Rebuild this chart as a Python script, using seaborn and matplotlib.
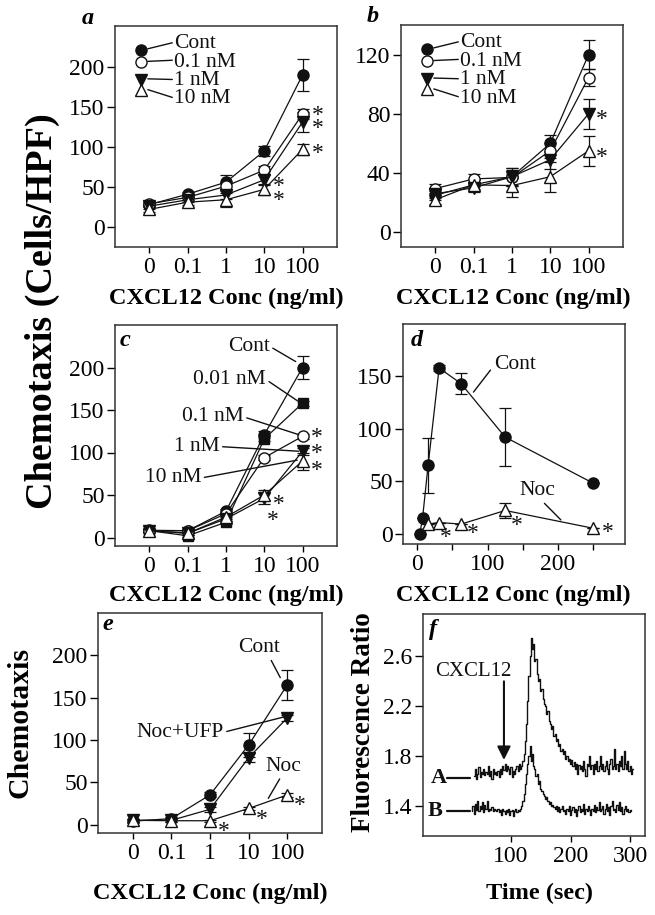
import numpy as np
import pandas as pd
import matplotlib
matplotlib.use('Agg')
import matplotlib.pyplot as plt
from matplotlib.font_manager import FontProperties
import seaborn as sns

sns.set_theme(style='ticks')
plt.rcParams['font.family'] = ['Liberation Serif', 'DejaVu Serif']
plt.rcParams['text.color'] = 'black'

# ---------------- data ----------------
conc_labels = ['0', '0.1', '1', '10', '100']

# panel a
a_cont = [28, 41, 56, 95, 190]
a_cont_err = [3, 3, 9, 6, 20]
a_01 = [29, 37, 51, 71, 141]
a_01_err = [3, 3, 5, 5, 6]
a_1 = [26, 34, 40, 59, 131]
a_1_err = [3, 3, 5, 6, 13]
a_10 = [22, 31, 34, 47, 97]
a_10_err = [3, 3, 9, 7, 7]
# significance marks: (x, top y, y step, lines)
a_stars = [(4.41, 144, 15.7, ['*', '*', '', '*']),
           (3.37, 56, 18, ['*', '*'])]

# panel b
b_cont = [25, 32, 37.5, 60, 120]
b_cont_err = [3, 3, 6, 6, 10]
b_01 = [29.5, 36, 37, 55, 104.5]
b_01_err = [3, 3, 5, 5, 6]
b_1 = [26, 30, 37.5, 49, 80]
b_1_err = [3, 3, 6, 6, 10]
b_10 = [22, 32, 31.5, 37.5, 55]
b_10_err = [3, 4, 8, 10, 10]
b_stars = [(4.35, 79, 0, ['*']), (4.35, 53, 0, ['*'])]

# panel c
c_cont = [8.5, 8, 31, 121, 200]
c_cont_err = [3, 2, 3, 4, 13]
c_001 = [8, 2, 18, 116, 158]
c_001_err = [2, 1, 2, 3, 3]
c_01 = [8, 8, 28, 94, 119]
c_01_err = [2, 2, 2, 3, 3]
c_1 = [8, 5, 22, 46, 101.5]
c_1_err = [2, 2, 2, 6, 4]
c_10 = [8, 5, 24, 50, 90]
c_10_err = [2, 2, 2, 6, 10]
c_stars = [(4.37, 123, 19.5, ['*', '*', '*']),
           (3.30, 44, 19, [' *', '*'])]

# panel d
d_x = [3.9, 7.8, 15.6, 31.25, 62.5, 125, 250]
d_cont = [0, 15, 65, 158, 143, 92, 48]
d_cont_err = [0, 0, 26, 3, 10, 28, 0]
d_noc_x = [15.6, 31.25, 62.5, 125, 250]
d_noc = [9, 10.5, 9, 22, 5]
d_noc_err = [0, 0, 0, 7, 0]
d_stars = [(40, 0.6, 0, ['*']), (79, 4, 0, ['*']), (141, 12, 0, ['*']),
           (270, 4.5, 0, ['*'])]

# panel e
e_cont = [4, 7, 35, 94, 165]
e_cont_err = [2, 2, 3, 14, 18]
e_nufp = [5, 5, 18, 79, 126]
e_nufp_err = [2, 2, 3, 5, 4]
e_noc = [5, 4.5, 4.5, 19, 35]
e_noc_err = [2, 1, 1, 2, 2]
e_stars = [(2.35, -3, 0, ['*']), (3.34, 11, 0, ['*']), (4.32, 27, 0, ['*'])]

# panel f (fluorescence traces, 2 s sampling)
f_tA = np.arange(38, 305, 2)
f_A = [1.64, 1.70, 1.62, 1.66, 1.71, 1.63, 1.67, 1.66, 1.70, 1.65,
       1.67, 1.66, 1.72, 1.64, 1.68, 1.62, 1.70, 1.66, 1.67, 1.65,
       1.68, 1.63, 1.70, 1.66, 1.72, 1.69, 1.74, 1.68, 1.72, 1.70,
       1.66, 1.71, 1.63, 1.68, 1.66, 1.70, 1.72, 1.68, 1.74, 1.70,
       1.72, 1.76, 1.82, 1.92, 2.06, 2.24, 2.44, 2.60, 2.75, 2.66,
       2.70, 2.56, 2.58, 2.46, 2.40, 2.42, 2.32, 2.34, 2.26, 2.22,
       2.20, 2.14, 2.16, 2.08, 2.06, 2.02, 2.04, 1.96, 1.98, 1.92,
       1.94, 1.88, 1.90, 1.84, 1.86, 1.82, 1.84, 1.78, 1.80, 1.76,
       1.78, 1.74, 1.77, 1.72, 1.75, 1.70, 1.74, 1.66, 1.73, 1.70,
       1.72, 1.68, 1.76, 1.70, 1.64, 1.74, 1.72, 1.80, 1.70, 1.73,
       1.66, 1.74, 1.70, 1.76, 1.68, 1.72, 1.80, 1.70, 1.74, 1.68,
       1.72, 1.76, 1.70, 1.66, 1.74, 1.78, 1.70, 1.72, 1.86, 1.70,
       1.74, 1.68, 1.76, 1.72, 1.80, 1.70, 1.84, 1.74, 1.70, 1.76,
       1.68, 1.72, 1.66, 1.70]
f_tB = np.arange(34, 303, 2)
f_B = [1.36, 1.40, 1.34, 1.42, 1.37, 1.44, 1.36, 1.40, 1.38, 1.43,
       1.35, 1.41, 1.38, 1.44, 1.36, 1.38, 1.37, 1.39, 1.36, 1.38,
       1.37, 1.36, 1.38, 1.35, 1.37, 1.33, 1.38, 1.36, 1.34, 1.37,
       1.35, 1.38, 1.33, 1.36, 1.37, 1.32, 1.36, 1.38, 1.35, 1.37,
       1.36, 1.38, 1.40, 1.44, 1.50, 1.58, 1.66, 1.74, 1.80, 1.88,
       1.76, 1.82, 1.72, 1.70, 1.64, 1.66, 1.58, 1.60, 1.54, 1.52,
       1.50, 1.48, 1.46, 1.47, 1.44, 1.42, 1.43, 1.40, 1.41, 1.39,
       1.38, 1.40, 1.36, 1.39, 1.35, 1.38, 1.40, 1.36, 1.37, 1.34,
       1.38, 1.36, 1.40, 1.33, 1.37, 1.39, 1.35, 1.38, 1.32, 1.37,
       1.40, 1.35, 1.38, 1.36, 1.42, 1.34, 1.38, 1.36, 1.40, 1.37,
       1.33, 1.38, 1.36, 1.41, 1.35, 1.39, 1.37, 1.43, 1.36, 1.38,
       1.40, 1.34, 1.38, 1.42, 1.36, 1.39, 1.33, 1.40, 1.44, 1.37,
       1.38, 1.35, 1.41, 1.37, 1.43, 1.36, 1.39, 1.34, 1.38, 1.40,
       1.36, 1.38, 1.35, 1.37, 1.36]

# ---------------- figure ----------------
W, H = 655, 915
fig = plt.figure(figsize=(W / 100, H / 100), dpi=100)
fig.patch.set_facecolor('white')
renderer = fig.canvas.get_renderer()
LC = '#111111'
SP = '#333333'
TICK_FS = 17
ANN_FS = 15.5
STAR_FS = 17
_star_prop = FontProperties(family=['Liberation Serif', 'DejaVu Serif'],
                            size=STAR_FS)
_w, _h, _d = renderer.get_text_width_height_descent('lp', _star_prop,
                                                     ismath=False)
STAR_ASC = _h - _d
STAR_DESC = _d


def mkax(l, t, r, b):
    ax = fig.add_axes([l / W, 1 - b / H, (r - l) / W, (b - t) / H])
    for s in ax.spines.values():
        s.set_visible(True)
        s.set_color(SP)
        s.set_linewidth(1.1)
    ax.tick_params(axis='y', length=6, width=1.0, direction='out', pad=1.5,
                   labelsize=TICK_FS, colors='black', left=True, right=False)
    ax.tick_params(axis='x', length=4, width=1.0, direction='out', pad=3,
                   labelsize=TICK_FS, colors='black', bottom=True, top=False)
    ax.set_facecolor('white')
    return ax


def series(ax, x, y, err, marker, filled, ms=8):
    if err is not None:
        ax.errorbar(x, y, yerr=err, fmt='none', ecolor=LC, elinewidth=0.9,
                    capsize=4, capthick=0.9, zorder=2)
    df = pd.DataFrame({'x': list(x), 'y': list(y)})
    sns.lineplot(data=df, x='x', y='y', ax=ax, estimator=None, sort=False,
                 color=LC, lw=0.9, marker=marker, markersize=ms,
                 markerfacecolor=LC if filled else 'white',
                 markeredgecolor=LC, markeredgewidth=1.0, zorder=3)
    ax.set_xlabel('')
    ax.set_ylabel('')


def stars(ax, groups):
    # call after the axis limits are final
    for (sx, ytop, ystep, lines) in groups:
        n = len(lines)
        ybot = ytop - ystep * (n - 1)
        ls = 1.0
        if n > 1:
            p0 = ax.transData.transform((sx, ytop))
            p1 = ax.transData.transform((sx, ytop - ystep))
            ls = (abs(p0[1] - p1[1]) - STAR_DESC) / STAR_ASC
        ax.annotate('\n'.join(lines), (sx, (ytop + ybot) / 2),
                    xytext=(0, -3), textcoords='offset points',
                    ha='center', va='center', multialignment='left',
                    linespacing=ls, fontsize=STAR_FS, color=LC)


def cat_axis(ax):
    xc = np.arange(len(conc_labels))
    ax.set_xticks(xc)
    ax.set_xticklabels(conc_labels)
    ax.set_xlim(-0.9, 4.9)
    return xc


def legend_box(ax, entries):
    # entries: (label, marker, filled, marker_y, line_end_y, text_y)
    for lab, mk, fl, my, ly, ty in entries:
        ax.plot([0.118], [my], transform=ax.transAxes, marker=mk, ms=8,
                mfc=LC if fl else 'white', mec=LC, mew=1.0, ls='none',
                clip_on=False, zorder=4)
        ax.plot([0.148, 0.258], [my + (0.004 if ly > my else 0), ly],
                transform=ax.transAxes, color=LC, lw=1.0, zorder=4)
        ax.text(0.265, ty, lab, transform=ax.transAxes, ha='left',
                va='center', fontsize=ANN_FS, color=LC)


legend_entries = [
    ('Cont', 'o', True, 0.893, 0.924, 0.920),
    ('0.1 nM', 'o', False, 0.836, 0.845, 0.837),
    ('1 nM', 'v', True, 0.757, 0.758, 0.754),
    ('10 nM', '^', False, 0.712, 0.677, 0.670),
]

# ---- panel a ----
ax = mkax(115, 26, 337, 247)
xc = cat_axis(ax)
series(ax, xc, a_cont, a_cont_err, 'o', True)
series(ax, xc, a_01, a_01_err, 'o', False)
series(ax, xc, a_1, a_1_err, 'v', True)
series(ax, xc, a_10, a_10_err, '^', False)
ax.set_ylim(-25, 251)
ax.set_yticks([0, 50, 100, 150, 200])
cat_axis(ax)
stars(ax, a_stars)
legend_box(ax, legend_entries)

# ---- panel b ----
ax = mkax(401, 25, 623, 247)
xc = cat_axis(ax)
series(ax, xc, b_cont, b_cont_err, 'o', True)
series(ax, xc, b_01, b_01_err, 'o', False)
series(ax, xc, b_1, b_1_err, 'v', True)
series(ax, xc, b_10, b_10_err, '^', False)
ax.set_ylim(-10, 140)
ax.set_yticks([0, 40, 80, 120])
cat_axis(ax)
stars(ax, b_stars)
legend_box(ax, legend_entries)

# ---- panel c ----
ax = mkax(115, 325, 337, 546)
xc = cat_axis(ax)
series(ax, xc, c_cont, c_cont_err, 'o', True)
series(ax, xc, c_001, c_001_err, 's', True, ms=7.5)
series(ax, xc, c_01, c_01_err, 'o', False)
series(ax, xc, c_1, c_1_err, 'v', True)
series(ax, xc, c_10, c_10_err, '^', False)
ax.set_ylim(-10, 250)
ax.set_yticks([0, 50, 100, 150, 200])
cat_axis(ax)
stars(ax, c_stars)
c_labels = [('Cont', (2.59, 225), (3.82, 207)),
            ('0.01 nM', (2.09, 186), (3.86, 161)),
            ('0.1 nM', (1.65, 142), (3.90, 121)),
            ('1 nM', (1.23, 107), (3.90, 101.5)),
            ('10 nM', (0.61, 70), (3.86, 91))]
for lab, tp, pp in c_labels:
    ax.annotate(lab, xy=pp, xytext=tp, ha='center', va='center',
                fontsize=ANN_FS, color=LC,
                arrowprops=dict(arrowstyle='-', lw=1.0, color=LC,
                                shrinkA=0, shrinkB=0, relpos=(1, 0.5)))

# ---- panel d ----
ax = mkax(403, 324, 625, 544)
series(ax, d_x, d_cont, d_cont_err, 'o', True)
series(ax, d_noc_x, d_noc, d_noc_err, '^', False)
ax.set_xlim(-20, 295)
ax.set_ylim(-10, 200)
ax.set_yticks([0, 50, 100, 150])
ax.set_xticks([0, 50, 100, 150, 200, 250])
ax.set_xticklabels(['0', '', '100', '', '200', ''])
stars(ax, d_stars)
ax.annotate('Cont', xy=(80, 135), xytext=(138.5, 161), ha='center',
            va='center', fontsize=ANN_FS, color=LC,
            arrowprops=dict(arrowstyle='-', lw=1.0, color=LC, shrinkA=0,
                            shrinkB=0, relpos=(0.0, 0.45)))
ax.annotate('Noc', xy=(204, 13), xytext=(171, 41), ha='center',
            va='center', fontsize=ANN_FS, color=LC,
            arrowprops=dict(arrowstyle='-', lw=1.0, color=LC, shrinkA=0,
                            shrinkB=0, relpos=(0.6, 0.0)))

# ---- panel e ----
ax = mkax(98, 613, 322, 833)
xc = cat_axis(ax)
series(ax, xc, e_cont, e_cont_err, 'o', True)
series(ax, xc, e_nufp, e_nufp_err, 'v', True)
series(ax, xc, e_noc, e_noc_err, '^', False)
ax.set_ylim(-10, 250)
ax.set_yticks([0, 50, 100, 150, 200])
cat_axis(ax)
stars(ax, e_stars)
ax.annotate('Cont', xy=(3.82, 173.6), xytext=(3.27, 209), ha='center',
            va='center', fontsize=ANN_FS, color=LC,
            arrowprops=dict(arrowstyle='-', lw=1.0, color=LC, shrinkA=0,
                            shrinkB=0, relpos=(0.75, 0.0)))
ax.annotate('Noc+UFP', xy=(3.9, 127), xytext=(1.22, 109), ha='center',
            va='center', fontsize=ANN_FS, color=LC,
            arrowprops=dict(arrowstyle='-', lw=1.0, color=LC, shrinkA=0,
                            shrinkB=0, relpos=(1.0, 0.5)))
ax.annotate('Noc', xy=(3.51, 31), xytext=(3.9, 69), ha='center',
            va='center', fontsize=ANN_FS, color=LC,
            arrowprops=dict(arrowstyle='-', lw=1.0, color=LC, shrinkA=0,
                            shrinkB=0, relpos=(0.45, 0.0)))

# ---- panel f ----
ax = mkax(423, 614, 645, 836)
sns.lineplot(x=f_tA, y=f_A, ax=ax, estimator=None, sort=False, color=LC,
             lw=1.0, drawstyle='steps-mid')
sns.lineplot(x=f_tB, y=f_B, ax=ax, estimator=None, sort=False, color=LC,
             lw=1.0, drawstyle='steps-mid')
ax.set_xlim(-48, 325)
ax.set_ylim(1.16, 2.94)
ax.set_xticks([100, 200, 300])
ax.set_yticks([1.4, 1.8, 2.2, 2.6])
ax.set_yticklabels(['1.4', '1.8', '2.2', '2.6'])
ax.set_xlabel('')
ax.set_ylabel('')
ax.text(-22, 1.627, 'A', ha='center', va='center', fontsize=16,
        fontweight='bold', color=LC)
ax.plot([-7, 31], [1.627, 1.627], color=LC, lw=1.6)
ax.text(-27, 1.362, 'B', ha='center', va='center', fontsize=16,
        fontweight='bold', color=LC)
ax.plot([-8, 31], [1.362, 1.362], color=LC, lw=1.6)
ax.text(37, 2.48, 'CXCL12', ha='center', va='center', fontsize=15,
        color=LC)
ax.annotate('', xy=(88, 1.77), xytext=(88, 2.40),
            arrowprops=dict(arrowstyle='-|>', color=LC, lw=1.5,
                            mutation_scale=20, shrinkA=0, shrinkB=0))

# ---------------- figure text ----------------
def ftext(x, y, s, **kw):
    fig.text(x / W, 1 - y / H, s, **kw)

XL_FS = 17.5
for cx, cy in [(226, 298), (513, 298), (226, 595), (513, 595), (210, 893)]:
    ftext(cx, cy, 'CXCL12 Conc (ng/ml)', ha='center', va='center',
          fontsize=XL_FS, fontweight='bold')
ftext(540, 893, 'Time (sec)', ha='center', va='center', fontsize=XL_FS,
      fontweight='bold')
ftext(42, 311, 'Chemotaxis (Cells/HPF)', ha='center', va='center',
      rotation=90, fontsize=27.5, fontweight='bold')
ftext(20, 722, 'Chemotaxis', ha='center', va='center', rotation=90,
      fontsize=21.5, fontweight='bold')
ftext(363, 722, 'Fluorescence Ratio', ha='center', va='center',
      rotation=90, fontsize=19.5, fontweight='bold')

for lab, x, y in [('a', 88, 19), ('b', 373, 17), ('c', 125, 341),
                  ('d', 417, 340), ('e', 108, 625), ('f', 433, 630)]:
    ftext(x, y, lab, ha='center', va='center', fontsize=17.5,
          fontweight='bold', fontstyle='italic')

fig.savefig('out.png', dpi=100, facecolor='white')
